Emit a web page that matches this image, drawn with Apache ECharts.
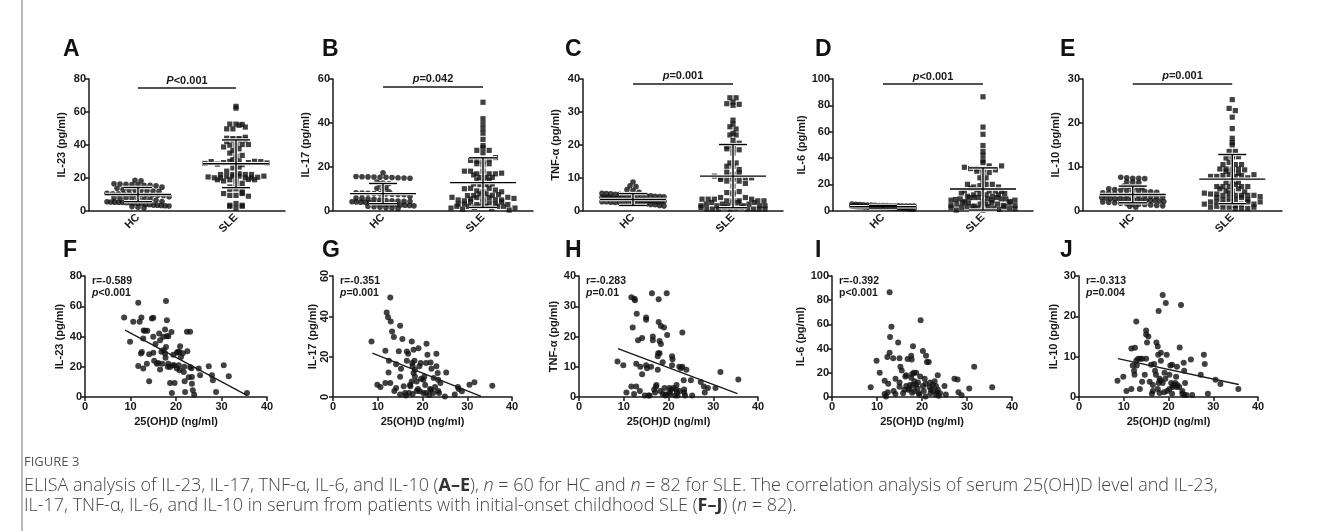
<!DOCTYPE html>
<html><head><meta charset="utf-8">
<script src="https://cdn.jsdelivr.net/npm/echarts@6/dist/echarts.min.js"></script>
<style>html,body{margin:0;padding:0;background:#fff}#c{width:1331px;height:531px}</style>
</head><body><div id="c"></div><script>
// ---------------- DATA ----------------
const categories = ['HC', 'SLE'];
const cytokines = ['IL-23', 'IL-17', 'TNF-α', 'IL-6', 'IL-10'];
const panelLettersTop = ['A', 'B', 'C', 'D', 'E'];
const panelLettersBottom = ['F', 'G', 'H', 'I', 'J'];
const yMax = [80, 60, 40, 100, 30];
const yStep = [20, 20, 10, 20, 10];
const xTicksBottom = [0, 40, 10];           // min, max, interval of 25(OH)D axis
const sigP = ['P', 'p', 'p', 'p', 'p'];
const sigText = ['<0.001', '=0.042', '=0.001', '<0.001', '=0.001'];
const sigLevel = [74.5, 56.4, 38.5, 96.2, 28.9];
const rText = ['r=-0.589', 'r=-0.351', 'r=-0.283', 'r=-0.392', 'r=-0.313'];
const pCorr = ['<0.001', '=0.001', '=0.01', '<0.001', '=0.004'];
const pItalic = [true, true, true, false, true];
const meanHC = [9.8, 7.8, 3.4, 3.0, 3.7];
const sdHC = [4.3, 4.6, 1.8, 1.0, 1.9];
const meanSLE = [28.5, 12.8, 10.5, 16.5, 7.2];
const sdSLE = [14.5, 11.3, 9.6, 16.0, 5.6];
const fitLines = [[[8.8, 44.2], [35.6, 1.1]], [[8.8, 21.8], [33.1, 0.3]], [[8.7, 16.0], [35.4, 1.1]], null, [[8.7, 9.5], [35.7, 3.1]]];

const hc_IL23 = [18.4,18.1,16.4,16.2,16.0,15.9,15.7,15.5,15.4,15.1,14.3,13.6,12.9,12.7,12.6,12.4,12.2,12.0,11.8,10.6,10.3,10.2,10.1,10.0,9.9,9.8,9.7,9.5,9.4,9.2,8.4,7.8,7.6,7.5,7.4,7.3,7.1,7.0,6.3,5.6,5.4,5.3,5.2,5.1,5.0,4.9,4.8,4.7,4.6,4.4,3.8,3.6,3.4,3.3,3.2,3.0,2.8,2.5,2.1,1.7];
const hc_IL17 = [17.3,15.6,15.5,15.4,15.3,15.2,15.2,15.1,15.0,14.9,14.8,13.0,12.6,12.4,12.2,10.5,10.2,9.9,8.6,8.2,8.0,7.9,7.8,7.7,7.6,7.5,7.4,7.3,6.5,5.8,5.6,5.4,5.2,4.8,4.6,4.5,4.4,4.3,4.2,4.1,4.0,3.9,3.8,3.7,3.3,3.1,3.0,2.9,2.8,2.7,2.6,2.5,2.4,2.2,2.0,1.8,1.6,1.4,1.2,1.0];
const hc_TNF = [8.7,7.6,7.3,6.4,6.1,5.6,5.3,5.2,5.1,5.0,5.0,4.9,4.8,4.8,4.7,4.6,4.5,4.5,4.4,4.3,4.2,4.1,4.0,4.0,3.9,3.8,3.8,3.7,3.6,3.6,3.5,3.5,3.4,3.4,3.3,3.3,3.2,3.2,3.1,3.0,3.0,2.9,2.9,2.8,2.8,2.7,2.7,2.6,2.5,2.5,2.4,2.3,2.2,2.2,2.1,2.0,1.9,1.8,1.6,1.4];
const hc_IL6 = [5.0,4.8,4.6,4.4,4.3,4.2,4.1,4.0,4.0,3.9,3.8,3.8,3.7,3.6,3.6,3.5,3.5,3.4,3.4,3.3,3.3,3.2,3.2,3.1,3.1,3.0,3.0,3.0,2.9,2.9,2.8,2.8,2.8,2.7,2.7,2.6,2.6,2.5,2.5,2.5,2.4,2.4,2.3,2.3,2.2,2.2,2.1,2.1,2.0,2.0,1.9,1.9,1.8,1.8,1.7,1.6,1.5,1.4,1.3,1.2];
const hc_IL10 = [7.6,7.5,7.4,7.4,7.3,6.6,6.5,6.4,5.6,5.5,5.4,5.3,5.0,4.8,4.7,4.6,4.5,4.5,4.4,4.3,4.2,4.1,4.0,3.8,3.7,3.6,3.5,3.5,3.4,3.3,3.2,3.1,3.0,2.9,2.8,2.7,2.7,2.6,2.6,2.5,2.5,2.4,2.4,2.3,2.3,2.2,2.1,2.0,1.9,1.8,1.7,1.6,1.5,1.5,1.4,1.3,1.2,1.1,1.0,0.8];

// SLE patients (n = 82), ordered by serum 25(OH)D
const vitD = [8.6,9.9,10.6,11.7,11.7,12.0,12.3,12.4,12.5,12.8,12.8,12.9,13.2,13.6,13.7,14.1,14.1,14.7,15.0,15.0,15.0,15.2,15.5,15.8,16.1,16.3,16.5,16.5,16.8,17.0,17.2,17.3,17.6,17.6,17.7,17.8,17.8,18.0,18.0,18.2,18.3,18.3,18.7,18.7,19.0,19.1,19.3,19.4,19.6,19.7,20.2,20.2,20.4,20.6,20.8,20.8,20.9,21.1,21.5,21.7,21.8,21.9,22.0,22.4,22.5,22.8,23.1,23.1,23.4,23.5,23.5,23.7,24.0,25.0,25.3,27.2,27.9,28.1,28.8,30.5,31.6,35.6];
const sle_IL23 = [52.6,36.5,49.7,62.3,20.5,49.7,28.7,52.6,29.8,18.8,38.7,44,43.8,22,43.8,10.4,28.3,51.9,52.4,39.8,29.2,24,35,22,22.5,42,37.6,18.1,30,22,39.8,31,44.6,28.7,26,63.4,33.1,50.8,40.2,20,40.2,22,9.3,19.9,43,2.7,21,28,21,9.3,29.2,18.8,30,21,29.8,17.7,33.6,26.5,29,16.6,20,10.4,3.3,43.1,30.3,13,43.1,19.9,19,13.3,8.8,4.4,1.5,18.8,14.4,20.3,14.4,11,3.3,21,13.7,2.7];
const sle_IL17 = [27.5,6.1,4.9,22.9,6.9,41.9,39.6,12.2,18,49.4,6.9,37.4,32.5,29.7,3,16.3,4.5,22.7,1.2,35.3,10,14,28.7,5.3,2,0.7,18,22.6,21.4,2,6,5.3,27.5,7.7,16.8,15.2,1.5,23.4,11.9,18,10.2,13.5,3,7.7,4,24.2,15.2,2.8,16.8,9,2,8.6,10.2,6,16.8,2,26.4,20.9,1,4,17.1,3.6,14,2,9.4,5,21.4,15.2,11.9,8.6,3,2,7,0.3,12.2,1.2,4.9,4,2.8,6.1,7.3,5.6];
const sle_TNF = [11.7,10.5,1.5,3.5,33,23,1,32.5,32,11,3.5,27.5,18.8,2,10,7.5,19.5,0.5,25.5,26.3,10.5,9.5,0.5,0.5,10,34.3,20,18.8,2.5,1.5,3.5,4,13.5,9,14.5,32.3,24.8,18.5,14.5,2,23.5,17.5,11.5,1,23,3,0.5,0.8,34.3,20.5,3,1.5,1,2.5,10.5,13.5,12.5,3,0.5,2.5,4,1.5,0.5,10,2,9.5,21.3,10,5.5,2.5,1.5,0.5,9,5.5,0.5,5,3.5,1.5,3,3,8.3,5.8];
const sle_IL6 = [8,30,20,13.5,2.5,0.5,33,4,11,86.5,36.5,49.5,58,32,5,15,2.5,45,8.5,12,32,25,22,3,6,17,9,18,31.5,6,7,10,34,16,31,3.5,19,10,42,20,13,5,20,10,7,12,3,2,17,63.5,38,9,5,15,11,0.5,34,29,29,8,12,3,6,10,5,13,9,2,4,18,6,1,3,9,2,15,14.5,4,1.5,7,25,8];
const sle_IL10 = [4,5,1.5,2,12,7.8,6.5,5.5,12.2,18.7,9,7.8,9.5,2,9.5,3.8,9.5,5.5,15.5,9.5,16.5,13.5,15,3.8,8,0.8,3,1.5,8.2,6.5,5.5,13.5,12.5,2,10.5,21.3,3.5,1,4.5,4,9,11,3.5,25.3,1.2,6,4.5,23.3,10.5,1.5,2,5.5,7.8,3.5,0.8,8,2.5,3,3.5,5,2.5,7.5,3,2.5,12.3,22.8,1.5,0.8,8.5,6.5,0.5,3.5,0.5,9.3,0.5,5.5,10.5,8.2,0.8,4.3,3.2,2];

const hcData = [hc_IL23, hc_IL17, hc_TNF, hc_IL6, hc_IL10];
const sleData = [sle_IL23, sle_IL17, sle_TNF, sle_IL6, sle_IL10];

// ---------------- LAYOUT ----------------
const FONT = '"Liberation Sans", Arial, sans-serif';
const INK = '#1a1a1a';
const TOP = { lefts: [89, 333, 583, 833, 1083], widths: [196, 200, 200, 200, 199], top: 79, height: 131.7 };
const BOT = { lefts: [85, 333, 579, 832, 1079], widths: [182, 179, 179, 180, 179], top: 276, height: 121 };
const letterX = [63, 322, 565, 815, 1060];

// beeswarm-style horizontal spreading (layout only)
function swarm(values, pxPerUnit, binH, dx, maxW) {
  const bins = new Map();
  values.forEach((v, i) => {
    const b = Math.floor(v * pxPerUnit / binH);
    if (!bins.has(b)) bins.set(b, []);
    bins.get(b).push(i);
  });
  const off = new Array(values.length).fill(0);
  bins.forEach(arr => {
    const n = arr.length;
    const sp = n > 1 ? Math.min(dx, maxW / (n - 1)) : 0;
    arr.forEach((i, k) => { off[i] = (k - (n - 1) / 2) * sp; });
  });
  return off;
}

const boldTxt = { fontFamily: FONT, fontWeight: 'bold', color: INK };
const gT = [], gB = [], xT = [], xB = [], yT = [], yB = [], series = [], graphics = [];

for (let i = 0; i < 5; i++) {
  // ---- top row ----
  gT.push({ left: TOP.lefts[i], top: TOP.top, width: TOP.widths[i], height: TOP.height });
  xT.push({
    gridIndex: i, type: 'category', data: categories, boundaryGap: true,
    axisLine: { lineStyle: { color: INK, width: 1.5 } },
    axisTick: { alignWithLabel: true, length: 4, lineStyle: { color: INK, width: 1.5 } },
    axisLabel: Object.assign({ rotate: 45, fontSize: 11, margin: 5 }, boldTxt),
    splitLine: { show: false }
  });
  yT.push({
    gridIndex: i, type: 'value', min: 0, max: yMax[i], interval: yStep[i],
    name: cytokines[i] + ' (pg/ml)', nameLocation: 'middle', nameGap: 22,
    nameTextStyle: Object.assign({ fontSize: 11 }, boldTxt),
    axisLine: { show: true, lineStyle: { color: INK, width: 1.5 } },
    axisTick: { show: true, length: 4, lineStyle: { color: INK, width: 1.5 } },
    axisLabel: Object.assign({ fontSize: 11, margin: 3 }, boldTxt),
    splitLine: { show: false }
  });
  const ppu = TOP.height / yMax[i];
  const offH = swarm(hcData[i], ppu, 4.5, 6, 62);
  const offS = swarm(sleData[i], ppu, 4.5, 6.2, 64);
  series.push({
    type: 'scatter', xAxisIndex: i, yAxisIndex: i, symbol: 'circle', symbolSize: 5.6,
    itemStyle: { color: '#111' }, silent: true,
    data: hcData[i].map((v, k) => ({ value: [0, v], symbolOffset: [offH[k], 0] }))
  });
  series.push({
    type: 'scatter', xAxisIndex: i, yAxisIndex: i, symbol: 'rect', symbolSize: 5.2,
    itemStyle: { color: '#111' }, silent: true,
    data: sleData[i].map((v, k) => ({ value: [1, v], symbolOffset: [offS[k], 0] })),
    markLine: {
      silent: true, symbol: 'none', animation: false,
      lineStyle: { color: INK, width: 1.6, type: 'solid' },
      label: {
        show: true, position: 'insideMiddleTop', distance: 2,
        formatter: '{i|' + sigP[i] + '}{b|' + sigText[i] + '}',
        rich: {
          i: { fontFamily: FONT, fontWeight: 'bold', fontStyle: 'italic', fontSize: 11, color: INK },
          b: { fontFamily: FONT, fontWeight: 'bold', fontSize: 11, color: INK }
        }
      },
      data: [[{ coord: ['HC', sigLevel[i]] }, { coord: ['SLE', sigLevel[i]] }]]
    }
  });
  series.push({
    type: 'custom', xAxisIndex: i, yAxisIndex: i, silent: true, z: 5,
    data: [[0, meanHC[i], sdHC[i]], [1, meanSLE[i], sdSLE[i]]],
    renderItem: (params, api) => {
      const x = api.value(0), m = api.value(1), s = api.value(2);
      const c = api.coord([x, m]);
      const t = api.coord([x, m + s]);
      const b = api.coord([x, Math.max(0, m - s)]);
      const segs = [[c[0] - 33, c[1], c[0] + 33, c[1]], [c[0], t[1], c[0], b[1]],
                    [c[0] - 14, t[1], c[0] + 14, t[1]], [c[0] - 14, b[1], c[0] + 14, b[1]]];
      const ch = [];
      segs.forEach(q => ch.push({ type: 'line', shape: { x1: q[0], y1: q[1], x2: q[2], y2: q[3] }, style: { stroke: '#fff', lineWidth: 3.4 } }));
      segs.forEach(q => ch.push({ type: 'line', shape: { x1: q[0], y1: q[1], x2: q[2], y2: q[3] }, style: { stroke: '#000', lineWidth: 1.4 } }));
      return { type: 'group', children: ch };
    }
  });
  graphics.push({ type: 'text', left: letterX[i], top: 38, style: { text: panelLettersTop[i], font: 'bold 23px ' + FONT, fill: '#111' } });

  // ---- bottom row ----
  const j = i + 5;
  gB.push({ left: BOT.lefts[i], top: BOT.top, width: BOT.widths[i], height: BOT.height });
  xB.push({
    gridIndex: j, type: 'value', min: xTicksBottom[0], max: xTicksBottom[1], interval: xTicksBottom[2],
    name: '25(OH)D (ng/ml)', nameLocation: 'middle', nameGap: 19,
    nameTextStyle: Object.assign({ fontSize: 11 }, boldTxt),
    axisLine: { lineStyle: { color: INK, width: 1.5 } },
    axisTick: { length: 4, lineStyle: { color: INK, width: 1.5 } },
    axisLabel: Object.assign({ fontSize: 11, margin: 4 }, boldTxt),
    splitLine: { show: false }
  });
  yB.push({
    gridIndex: j, type: 'value', min: 0, max: yMax[i], interval: yStep[i],
    name: cytokines[i] + ' (pg/ml)', nameLocation: 'middle', nameGap: i === 1 ? 14 : 20,
    nameTextStyle: Object.assign({ fontSize: 11 }, boldTxt),
    axisLine: { show: true, lineStyle: { color: INK, width: 1.5 } },
    axisTick: { show: true, length: 4, lineStyle: { color: INK, width: 1.5 } },
    axisLabel: Object.assign({ fontSize: 11, margin: 3, rotate: i === 1 ? 90 : 0 }, boldTxt),
    splitLine: { show: false }
  });
  series.push({
    type: 'scatter', xAxisIndex: j, yAxisIndex: j, symbol: 'circle', symbolSize: 6,
    itemStyle: { color: '#111' }, silent: true,
    data: vitD.map((d, k) => [d, sleData[i][k]])
  });
  if (fitLines[i]) {
    series.push({
      type: 'line', xAxisIndex: j, yAxisIndex: j, symbol: 'none', silent: true,
      lineStyle: { color: INK, width: 1.3 }, data: fitLines[i]
    });
  }
  graphics.push({ type: 'text', left: letterX[i], top: 239, style: { text: panelLettersBottom[i], font: 'bold 23px ' + FONT, fill: '#111' } });
  graphics.push({
    type: 'text', left: BOT.lefts[i] + 7, top: 276,
    style: {
      text: '{b|' + rText[i] + '}\n' + (pItalic[i] ? '{i|p}' : '{b|p}') + '{b|' + pCorr[i] + '}',
      rich: {
        b: { fontFamily: FONT, fontWeight: 'bold', fontSize: 10.5, fill: INK, lineHeight: 12 },
        i: { fontFamily: FONT, fontWeight: 'bold', fontStyle: 'italic', fontSize: 10.5, fill: INK, lineHeight: 12 }
      }
    }
  });
}

// caption
const capFont = '"Open Sans", "Noto Sans", sans-serif';
const capRich = {
  r: { fontFamily: capFont, fontSize: 18, fill: '#444', fontWeight: 300 },
  b: { fontFamily: capFont, fontSize: 18, fill: '#333', fontWeight: 'bold' },
  i: { fontFamily: capFont, fontSize: 18, fill: '#444', fontStyle: 'italic', fontWeight: 300 }
};
graphics.push({ type: 'line', shape: { x1: 22, y1: 0, x2: 22, y2: 531 }, style: { stroke: '#777', lineWidth: 1 } });
graphics.push({ type: 'text', left: 24, top: 456, style: { text: 'FIGURE 3', font: '13px ' + capFont, fill: '#555' } });
graphics.push({ type: 'text', left: 24, top: 477, style: { text: '{r|ELISA analysis of IL-23, IL-17, TNF-α, IL-6, and IL-10 (}{b|A–E}{r|), }{i|n}{r| = 60 for HC and }{i|n}{r| = 82 for SLE. The correlation analysis of serum 25(OH)D level and IL-23,}', rich: capRich } });
graphics.push({ type: 'text', left: 24, top: 497, style: { text: '{r|IL-17, TNF-α, IL-6, and IL-10 in serum from patients with initial-onset childhood SLE (}{b|F–J}{r|) (}{i|n}{r| = 82).}', rich: capRich } });

const chart = echarts.init(document.getElementById('c'), null, { renderer: 'canvas' });
chart.setOption({
  backgroundColor: '#fff', animation: false,
  grid: gT.concat(gB), xAxis: xT.concat(xB), yAxis: yT.concat(yB), series: series, graphic: graphics
});
</script></body></html>
